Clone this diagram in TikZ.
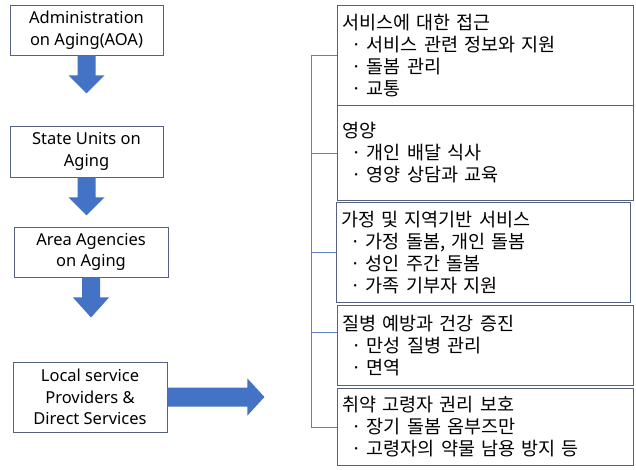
\documentclass[tikz,border=0pt]{standalone}
\usepackage{fontspec}
\setmainfont{Noto Sans}
\newfontfamily\krfont{Noto Sans CJK KR}
\usetikzlibrary{positioning,calc}
\definecolor{framegray}{RGB}{84,98,128}
\definecolor{arrowblue}{RGB}{68,114,196}
\definecolor{spineblue}{RGB}{96,126,196}
\newcommand{\svcitem}{\hspace*{9pt}·\hspace{5pt}}

\tikzset{
  agency/.style={draw=framegray, line width=0.9pt, minimum width=153pt, align=center, inner sep=0pt, font=\fontsize{16.5}{21.5}\selectfont},
  service/.style={draw=framegray, line width=0.9pt, anchor=north west, text width=286pt, inner xsep=5pt, inner ysep=0pt, align=left, font=\krfont\fontsize{18.5}{22}\selectfont},
  blockarrow/.style={fill=arrowblue},
  spine/.style={draw=spineblue, line width=0.8pt}
}

\begin{document}
\begin{tikzpicture}[x=1pt, y=-1pt]
    \useasboundingbox (0,0) rectangle (636,469);

    % chain of agencies
    \node[agency, minimum height=50pt] (aoa) at (86.5,30) {Administration\\on Aging(AOA)};
    \node[agency, minimum height=51pt] (suoa) at (86.5,151.5) {State Units on\\Aging};
    \node[agency, minimum height=50pt, minimum width=154pt] (aaa) at (91,252) {Area Agencies\\on Aging};
    \node[agency, minimum height=70pt, minimum width=154pt] (local) at (90,397) {Local service\\Providers \&\\Direct Services};

    \fill[blockarrow] (aoa.south) ++(-9,0) -- ++(18,0) -- ++(0,20) -- ++(9,0) -- ++(-18,18) -- ++(-18,-18) -- ++(9,0) -- cycle;
    \fill[blockarrow] (suoa.south) ++(-9,0) -- ++(18,0) -- ++(0,20) -- ++(9,0) -- ++(-18,18) -- ++(-18,-18) -- ++(9,0) -- cycle;
    \fill[blockarrow] (aaa.south) ++(-9,0) -- ++(18,0) -- ++(0,20) -- ++(9,0) -- ++(-18,20) -- ++(-18,-20) -- ++(9,0) -- cycle;
    \fill[blockarrow] (local.east) ++(0,-9.5) -- ++(80,0) -- ++(0,-9) -- ++(17,18.5) -- ++(-17,18.5) -- ++(0,-9) -- ++(-80,0) -- cycle;

    % services
    \node[service, minimum height=100pt] (access) at (337,5) {서비스에 대한 접근\\\svcitem 서비스 관련 정보와 지원\\\svcitem 돌봄 관리\\\svcitem 교통};
    \node[service, minimum height=95pt] (nutri) at (337,105) {영양\\\svcitem 개인 배달 식사\\\svcitem 영양 상담과 교육};
    \node[service, minimum height=100pt, text width=284pt] (home) at (336,202) {가정 및 지역기반 서비스\\\svcitem 가정 돌봄, 개인 돌봄\\\svcitem 성인 주간 돌봄\\\svcitem 가족 기부자 지원};
    \node[service, minimum height=80pt] (health) at (337,305) {질병 예방과 건강 증진\\\svcitem 만성 질병 관리\\\svcitem 면역};
    \node[service, minimum height=77pt] (rights) at (337,388) {취약 고령자 권리 보호\\\svcitem 장기 돌봄 옴부즈만\\\svcitem 고령자의 약물 남용 방지 등};

    \coordinate (spinetop) at ($(access.west)+(-26,0)$);
    \coordinate (healthtick) at ($(health.north west)!0.34!(health.south west)$);
    \draw[spine] (access.west) -- (spinetop) |- (rights.west);
    \draw[spine] (nutri.west) -- (nutri.west -| spinetop);
    \draw[spine] (home.west) -- (home.west -| spinetop);
    \draw[spine] (healthtick) -- (healthtick -| spinetop);
\end{tikzpicture}
\end{document}
